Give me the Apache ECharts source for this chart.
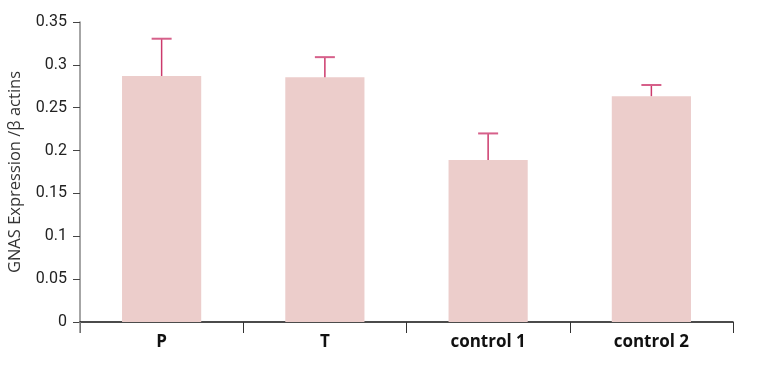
<!DOCTYPE html>
<html>
<head>
<meta charset="utf-8">
<script src="https://cdn.jsdelivr.net/npm/echarts@6/dist/echarts.min.js"></script>
<style>
html,body{margin:0;padding:0;background:#fff;}
#chart{width:759px;height:368px;}
</style>
</head>
<body>
<div id="chart"></div>
<script>
const categories = ['P', 'T', 'control 1', 'control 2'];
const means = [0.287, 0.2855, 0.189, 0.2635];
const errorTops = [0.3305, 0.309, 0.22, 0.2765];
const yTicks = { min: 0, max: 0.35, interval: 0.05 };

const chart = echarts.init(document.getElementById('chart'), null, { renderer: 'canvas' });

const errData = categories.map((c, i) => [i, means[i], errorTops[i]]);

chart.setOption({
  animation: false,
  grid: { left: 80, right: 26, top: 22, bottom: 46, containLabel: false, outerBoundsMode: 'none' },
  xAxis: {
    type: 'category',
    data: categories,
    axisLine: { lineStyle: { color: '#111', width: 1.5 } },
    axisTick: { show: true, length: 11, lineStyle: { color: '#333', width: 1 } },
    axisLabel: {
      margin: 12,
      fontFamily: 'Open Sans',
      fontWeight: 'bold',
      fontSize: 17,
      color: '#111'
    }
  },
  yAxis: {
    type: 'value',
    min: yTicks.min,
    max: yTicks.max,
    interval: yTicks.interval,
    name: 'GNAS Expression /β actins',
    nameLocation: 'middle',
    nameGap: 56,
    nameRotate: 90,
    nameTextStyle: { fontFamily: 'Open Sans', fontSize: 16.5, color: '#333' },
    axisLine: { show: true, lineStyle: { color: '#888', width: 1.5 } },
    axisTick: { show: true, length: 7, lineStyle: { color: '#444', width: 1 } },
    axisLabel: {
      margin: 13,
      fontFamily: 'Roboto',
      fontSize: 16,
      color: '#222'
    },
    splitLine: { show: false }
  },
  series: [
    {
      type: 'bar',
      data: means,
      barWidth: '48.5%',
      itemStyle: { color: '#eccdcb' },
      z: 2
    },
    {
      type: 'custom',
      data: errData,
      z: 3,
      renderItem: function (params, api) {
        const x = api.value(0);
        const base = api.coord([x, api.value(1)]);
        const top = api.coord([x, api.value(2)]);
        const half = 10;
        const style = { stroke: '#cc3a6c', lineWidth: 1.5 };
        return {
          type: 'group',
          children: [
            { type: 'line', shape: { x1: base[0], y1: base[1], x2: top[0], y2: top[1] }, style: style },
            { type: 'line', shape: { x1: top[0] - half, y1: top[1], x2: top[0] + half, y2: top[1] }, style: { stroke: '#d6608a', lineWidth: 2 } }
          ]
        };
      }
    }
  ]
});

// extend the y axis line slightly below zero, as in the reference
const p0 = chart.convertToPixel({ xAxisIndex: 0, yAxisIndex: 0 }, [0, 0]);
const gridRect = chart.getModel().getComponent('grid').coordinateSystem.getRect();
chart.setOption({
  graphic: [{
    type: 'line',
    shape: { x1: gridRect.x, y1: p0[1], x2: gridRect.x, y2: p0[1] + 11 },
    style: { stroke: '#888', lineWidth: 1.5 },
    z: 5
  }]
});
</script>
</body>
</html>
